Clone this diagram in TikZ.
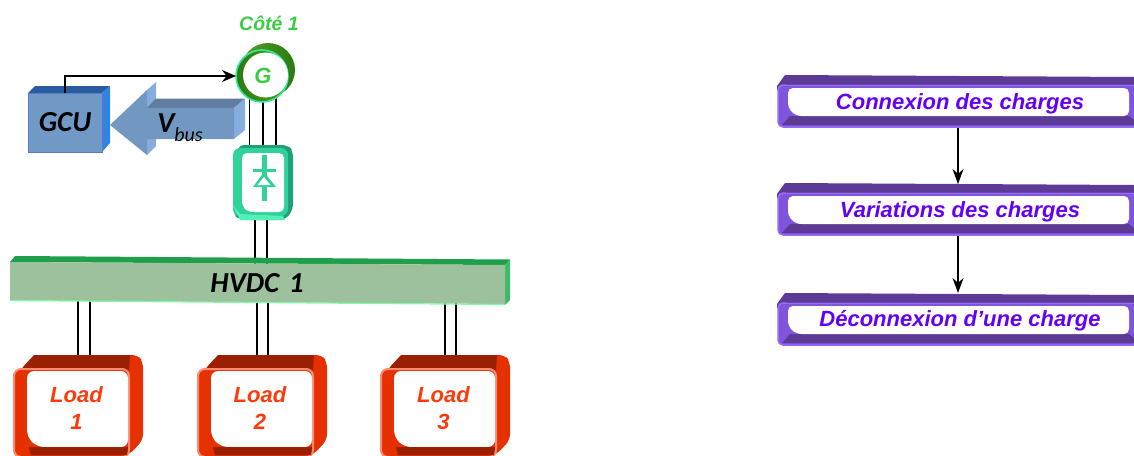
\documentclass[tikz,border=0pt]{standalone}
\usepackage{fontspec}
\setmainfont{Liberation Sans}
\newfontfamily\calib{Carlito}
\usetikzlibrary{arrows.meta}
\pgfdeclarelayer{behind}
\pgfsetlayers{behind,main}
\definecolor{redfront}{HTML}{E53000}
\definecolor{redtop}{HTML}{992000}
\definecolor{rededge}{HTML}{FF8A70}
\definecolor{redtext}{HTML}{FF3A0A}
\definecolor{purfront}{HTML}{7F55DD}
\definecolor{purtop}{HTML}{5C3A96}
\definecolor{puredge}{HTML}{9A6CFA}
\definecolor{purtext}{HTML}{6400F5}
\definecolor{bluefront}{HTML}{7199C6}
\definecolor{bluetop}{HTML}{285C9C}
\definecolor{blueside}{HTML}{2E84E0}
\definecolor{arrfront}{HTML}{7298C2}
\definecolor{arrtop}{HTML}{5F7EA0}
\definecolor{arrlight}{HTML}{85ADDE}
\definecolor{busfront}{HTML}{9DC19C}
\definecolor{bustop}{HTML}{1F9E4C}
\definecolor{busedge}{HTML}{82FBA8}
\definecolor{recti}{HTML}{2FD39A}
\definecolor{rectidark}{HTML}{1F9F78}
\definecolor{rectilight}{HTML}{55F0B8}
\definecolor{genlight}{HTML}{2EEE9E}
\definecolor{gendark}{HTML}{2A7A14}
\definecolor{genolive}{HTML}{58A020}
\definecolor{gentext}{HTML}{3CCB46}
\tikzset{
  x=1pt,y=-1pt,
  wire/.style={draw=black,line width=1.2pt},
  flow/.style={draw=black,line width=1.2pt,-{Stealth[length=15pt,width=11pt]}},
  loadtext/.style={font=\fontsize{22}{27}\selectfont\bfseries\itshape,text=redtext,align=center,inner sep=0pt},
  steptext/.style={font=\fontsize{22}{24}\selectfont\bfseries\itshape,text=purtext,inner sep=0pt,outer sep=0pt,minimum height=48pt,anchor=center},
  calibtext/.style={font=\calib\fontsize{29}{34}\selectfont\bfseries\itshape,text=black,inner sep=0pt}
}
\newcommand{\loadshape}[1]{%
  \begin{scope}[shift={(#1,0)}]
    \fill[redfront,rounded corners=6pt] (20,370) -- (34,355) -- (138,355) -- (143,362) -- (143,440) -- (129,455) -- (20,455) -- cycle;
    \fill[redtop] (21,370) -- (34,355) -- (130,355) -- (129,370) -- cycle;
    \fill[redfront,rounded corners=7pt,draw=rededge,line width=2pt] (14,457) -- (14,369) -- (129,369) -- (129,457) -- cycle;
    \fill[white,rounded corners=7pt] (27,371) -- (128,371) -- (128,447) -- (37,447) -- (27,437) -- cycle;
    \fill[redtop] (29,447) -- (128,447) -- (127,455) -- (31,455) -- cycle;
  \end{scope}}
\newcommand{\stepshape}[1]{%
  \begin{scope}[shift={(0,#1)}]
    \fill[purtop] (777,86) -- (785,75) -- (1134,77) -- (1134,90) -- (777,90) -- cycle;
    \fill[purfront,rounded corners=5pt,draw=puredge,line width=1.5pt] (778,127) -- (778,85) -- (1140,85) -- (1140,127) -- cycle;
    \fill[purtop] (790,116) -- (1129,116) -- (1134,120) -- (1134,125) -- (782,125) -- cycle;
    \fill[purtop] (786,83) -- (1134,83.5) -- (1134,84.5) -- (786,84.5) -- cycle;
    \fill[white,rounded corners=5pt] (788,88) -- (1129,88) -- (1129,116) -- (796,116) -- (788,108) -- cycle;
  \end{scope}}
\begin{document}
\begin{tikzpicture}
\useasboundingbox (0,0) rectangle (1134,455);
% GCU cuboid
\fill[bluetop] (28,93) -- (35,86) -- (110,86) -- (102,93) -- cycle;
\fill[blueside] (102,93) -- (110,86) -- (110,143) -- (102,152) -- cycle;
\fill[bluefront,draw=bluefront!80!blue,line width=.8pt] (28,93) rectangle (102,152);
% Vbus arrow
\fill[arrlight] (147,90) -- (156,82) -- (156,146) -- (147,155) -- cycle;
\fill[arrtop] (147,108) -- (156,98.5) -- (245,98.5) -- (234,108) -- cycle;
\fill[arrlight] (234,108) -- (245,98.5) -- (245,130) -- (234,139) -- cycle;
\fill[arrfront] (110,125) -- (147,90) -- (147,108) -- (234,108) -- (234,139) -- (147,139) -- (147,155) -- cycle;
% Generator
\shade[left color=genolive,right color=gendark] (268,70) circle[radius=27];
\shade[left color=gendark,right color=genolive,draw=genlight,line width=1.6pt] (262,76) circle[radius=26];
\fill[white] (265.5,75) circle[radius=22.5];
% Rectifier
\fill[rectidark,rounded corners=6pt] (238,145) -- (288,145) -- (293,151) -- (293,210) -- (285,220) -- (240,220) -- (233,214) -- cycle;
\fill[recti,rounded corners=7pt] (233,148) -- (288,148) -- (288,216) -- (233,216) -- cycle;
\fill[rectilight] (233,205) -- (240,220) -- (285,220) -- (283,216) -- (240,214) -- cycle;
\fill[white,rounded corners=5pt] (242,153) -- (284,153) -- (284,212) -- (248,212) -- (242,206) -- cycle;
\fill[recti] (261.5,155) -- (266.5,155) -- (266.5,201) -- (261.5,201) -- cycle;
\fill[recti] (253,169) -- (276,169) -- (276,172) -- (253,172) -- cycle;
\fill[recti] (264,172) -- (276,187) -- (253,187) -- cycle;
\fill[white] (264,177) -- (270.5,185) -- (257.5,185) -- cycle;
% Bus
\fill[bustop] (10,262) -- (15,256) -- (510,259.5) -- (505,265) -- cycle;
\fill[bustop!70!busedge] (505,265) -- (510,259.5) -- (510,300) -- (505,305) -- cycle;
\fill[busfront] (10,262) -- (505,265) -- (505,304) -- (10,300.5) -- cycle;
\draw[busedge,line width=1.2pt] (10,300.5) -- (505,304.5);
% Loads and steps
\loadshape{0}
\loadshape{184}
\loadshape{367}
\stepshape{0}
\stepshape{108}
\stepshape{218}
% Nodes
\node[font=\fontsize{19.5}{22}\selectfont\bfseries\itshape,text=gentext,inner sep=0pt] (cote) at (269,23) {Côté 1};
\node[circle,minimum size=54pt,inner sep=0pt,outer sep=0pt,font=\fontsize{22}{24}\selectfont\bfseries\itshape,text=gentext] (gen) at (263,76) {G};
\node[minimum width=54pt,minimum height=66pt,inner sep=0pt,outer sep=0pt] (rect) at (263,182) {};
\node[calibtext,minimum width=74pt,minimum height=59pt,outer sep=0pt] (gcu) at (65,122.5) {GCU};
\node[calibtext] (vbus) at (180,128) {V\raisebox{-9pt}{\fontsize{20}{24}\selectfont\mdseries bus}};
\node[calibtext,minimum width=495pt,minimum height=38pt] (bus) at (257,283) {HVDC\hspace{3pt} 1};
\node[loadtext] (load1) at (76.5,408) {Load\\1};
\node[loadtext] (load2) at (260,408) {Load\\2};
\node[loadtext] (load3) at (443.5,408) {Load\\3};
\node[steptext] (s1) at (960,104) {Connexion des charges};
\node[steptext] (s2) at (960,212) {Variations des charges};
\node[steptext] (s3) at (960,321) {Déconnexion d’une charge};
% Connectors
\draw[line width=1.2pt,-{Stealth[length=14pt,width=12pt]}] (gcu.north) |- (gen.west);
\begin{pgfonlayer}{behind}
  \foreach \dx in {-13.5,0,13}
    \draw[wire] ([xshift=\dx pt]gen.center) -- ([xshift=\dx pt]rect.center);
  \foreach \dx in {-8,4}
    \draw[wire] ([xshift=\dx pt]rect.center) -- ([xshift=\dx pt]rect.center |- bus.center);
  \foreach \n/\a/\b in {load1/1.5/13.5,load2/-3/8,load3/1.5/12.5}{
    \draw[wire] ([xshift=\a pt]\n.center) -- ([xshift=\a pt]\n.center |- bus.center);
    \draw[wire] ([xshift=\b pt]\n.center) -- ([xshift=\b pt]\n.center |- bus.center);
  }
\end{pgfonlayer}
\draw[flow] ([xshift=-2pt]s1.south) -- ([xshift=-2pt,yshift=4pt]s2.north);
\draw[flow] ([xshift=-2pt]s2.south) -- ([xshift=-2pt,yshift=4pt]s3.north);
\end{tikzpicture}
\end{document}
